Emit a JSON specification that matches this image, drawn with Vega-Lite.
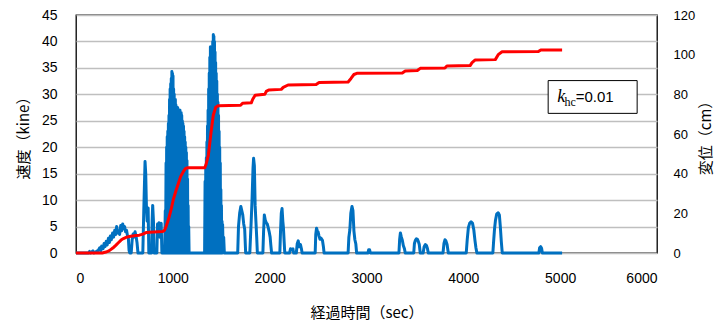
{
  "$schema": "https://vega.github.io/schema/vega-lite/v6.json",
  "width": 581,
  "height": 238,
  "autosize": "none",
  "padding": {"left": 76, "top": 15, "right": 60, "bottom": 70},
  "background": "white",
  "config": {
    "view": {"stroke": "#000000", "strokeWidth": 1.3},
    "axis": {"labelColor": "#000000", "titleColor": "#000000", "titleFontWeight": "normal"}
  },
  "datasets": {
    "vel": [
      {"t":0,"v":0},{"t":130,"v":0},{"t":140,"v":0.3},{"t":150,"v":0},{"t":175,"v":0.4},{"t":185,"v":0},
      {"t":230,"v":0.5},{"t":245,"v":1.0},{"t":255,"v":0.4},{"t":265,"v":1.3},{"t":280,"v":0.8},{"t":290,"v":1.8},
      {"t":300,"v":1.2},{"t":312,"v":2.2},{"t":322,"v":1.5},{"t":335,"v":2.8},{"t":345,"v":2.0},{"t":355,"v":3.2},
      {"t":365,"v":2.5},{"t":378,"v":3.8},{"t":388,"v":3.0},{"t":400,"v":4.3},{"t":410,"v":3.5},{"t":420,"v":5.0},
      {"t":430,"v":3.8},{"t":440,"v":4.2},{"t":450,"v":3.5},{"t":462,"v":5.2},{"t":472,"v":4.2},{"t":482,"v":5.5},
      {"t":492,"v":4.6},{"t":502,"v":5.0},{"t":512,"v":4.0},{"t":522,"v":4.3},{"t":532,"v":3.2},{"t":540,"v":3.0},
      {"t":548,"v":0.5},{"t":555,"v":0},{"t":570,"v":0},{"t":580,"v":2.5},{"t":590,"v":3.6},{"t":600,"v":3.0},
      {"t":610,"v":4.0},{"t":620,"v":3.2},{"t":630,"v":2.0},{"t":640,"v":0},
      {"t":690,"v":0},{"t":700,"v":8},{"t":713,"v":17.3},{"t":720,"v":15},{"t":727,"v":9},{"t":735,"v":6},{"t":745,"v":8.5},{"t":752,"v":0},
      {"t":780,"v":0},{"t":786,"v":6},{"t":792,"v":9},{"t":800,"v":6},{"t":806,"v":0},
      {"t":835,"v":0},{"t":842,"v":5.5},{"t":850,"v":4},{"t":858,"v":5.7},{"t":866,"v":3},{"t":872,"v":5.2},{"t":880,"v":5.6},{"t":887,"v":0},
      {"t":915,"v":0},{"t":922,"v":8},{"t":925,"v":0},{"t":930,"v":17},{"t":933,"v":0},{"t":936,"v":20},{"t":939,"v":0},
      {"t":942,"v":22},{"t":945,"v":0},{"t":948,"v":23},{"t":951,"v":0},{"t":954,"v":24.5},{"t":957,"v":0},
      {"t":960,"v":26},{"t":963,"v":0},{"t":966,"v":29},{"t":969,"v":0},{"t":972,"v":31},{"t":975,"v":0},
      {"t":978,"v":32},{"t":981,"v":0},{"t":984,"v":33},{"t":987,"v":0},{"t":990,"v":34.3},{"t":993,"v":0},
      {"t":996,"v":34},{"t":999,"v":0},{"t":1002,"v":33.5},{"t":1005,"v":0},{"t":1008,"v":31},{"t":1011,"v":0},
      {"t":1014,"v":30},{"t":1017,"v":0},{"t":1020,"v":29},{"t":1023,"v":0},{"t":1026,"v":29},{"t":1029,"v":0},
      {"t":1032,"v":28},{"t":1035,"v":0},{"t":1038,"v":26.5},{"t":1041,"v":0},{"t":1044,"v":27},{"t":1047,"v":0},
      {"t":1050,"v":27.5},{"t":1053,"v":0},{"t":1056,"v":26},{"t":1059,"v":0},{"t":1062,"v":26.5},{"t":1065,"v":0},
      {"t":1068,"v":27},{"t":1071,"v":0},{"t":1074,"v":27},{"t":1077,"v":0},{"t":1080,"v":26.5},{"t":1083,"v":0},
      {"t":1086,"v":26.5},{"t":1089,"v":0},{"t":1092,"v":26},{"t":1095,"v":0},{"t":1098,"v":25},{"t":1101,"v":0},
      {"t":1104,"v":24.5},{"t":1107,"v":0},{"t":1110,"v":24},{"t":1113,"v":0},{"t":1116,"v":23},{"t":1119,"v":0},
      {"t":1122,"v":22},{"t":1125,"v":0},{"t":1128,"v":21},{"t":1131,"v":0},{"t":1134,"v":20},{"t":1137,"v":0},
      {"t":1140,"v":19},{"t":1143,"v":0},{"t":1146,"v":17.5},{"t":1149,"v":0},{"t":1152,"v":14},{"t":1155,"v":0},
      {"t":1158,"v":9},{"t":1161,"v":0},{"t":1164,"v":5},{"t":1168,"v":0},
      {"t":1328,"v":0},{"t":1333,"v":13.5},{"t":1336,"v":0},{"t":1340,"v":16},{"t":1343,"v":0},{"t":1346,"v":18},{"t":1349,"v":0},
      {"t":1352,"v":21},{"t":1355,"v":0},{"t":1358,"v":24},{"t":1361,"v":0},{"t":1364,"v":27},{"t":1367,"v":0},
      {"t":1370,"v":31},{"t":1373,"v":0},{"t":1376,"v":34},{"t":1379,"v":0},{"t":1382,"v":37},{"t":1385,"v":0},
      {"t":1388,"v":39},{"t":1391,"v":0},{"t":1394,"v":38.5},{"t":1397,"v":0},{"t":1400,"v":38},{"t":1403,"v":0},
      {"t":1406,"v":39},{"t":1409,"v":0},{"t":1412,"v":40},{"t":1415,"v":0},{"t":1418,"v":41.3},{"t":1421,"v":0},
      {"t":1424,"v":41},{"t":1427,"v":0},{"t":1430,"v":40},{"t":1433,"v":0},{"t":1436,"v":38},{"t":1439,"v":0},
      {"t":1442,"v":36},{"t":1445,"v":0},{"t":1448,"v":34},{"t":1451,"v":0},{"t":1454,"v":32.5},{"t":1457,"v":0},
      {"t":1460,"v":30},{"t":1463,"v":0},{"t":1466,"v":28.5},{"t":1469,"v":0},{"t":1472,"v":26},{"t":1475,"v":0},
      {"t":1478,"v":23},{"t":1481,"v":0},{"t":1484,"v":20},{"t":1487,"v":0},{"t":1490,"v":17},{"t":1493,"v":0},
      {"t":1496,"v":12},{"t":1499,"v":0},{"t":1502,"v":9},{"t":1505,"v":0},{"t":1508,"v":6},{"t":1511,"v":0},
      {"t":1514,"v":5.4},{"t":1518,"v":2},{"t":1525,"v":3},{"t":1532,"v":0},
      {"t":1670,"v":0},{"t":1678,"v":5},{"t":1690,"v":7.5},{"t":1702,"v":8.8},{"t":1712,"v":8.0},{"t":1722,"v":7.2},{"t":1732,"v":5.5},{"t":1742,"v":4.5},{"t":1752,"v":0},
      {"t":1795,"v":0},{"t":1802,"v":3},{"t":1808,"v":5.5},{"t":1818,"v":10},{"t":1828,"v":16},{"t":1834,"v":17.9},{"t":1842,"v":16.5},{"t":1850,"v":9},{"t":1858,"v":6},{"t":1866,"v":3},{"t":1873,"v":0},
      {"t":1930,"v":0},{"t":1937,"v":4},{"t":1945,"v":7.2},{"t":1955,"v":6.2},{"t":1965,"v":5.7},{"t":1975,"v":5.5},{"t":1985,"v":4.8},{"t":1995,"v":4},{"t":2005,"v":3},{"t":2012,"v":1.5},{"t":2020,"v":0},
      {"t":2105,"v":0},{"t":2112,"v":4},{"t":2120,"v":7.5},{"t":2128,"v":8.4},{"t":2136,"v":6},{"t":2142,"v":4.8},{"t":2150,"v":2},{"t":2156,"v":0},
      {"t":2205,"v":0},{"t":2215,"v":0.8},{"t":2228,"v":0.6},{"t":2240,"v":0.8},{"t":2248,"v":0},
      {"t":2275,"v":0},{"t":2285,"v":1.8},{"t":2295,"v":2.3},{"t":2305,"v":1.2},{"t":2318,"v":1.6},{"t":2328,"v":0.8},{"t":2335,"v":0},
      {"t":2470,"v":0},{"t":2476,"v":3.5},{"t":2484,"v":4.7},{"t":2492,"v":4.2},{"t":2500,"v":4.0},{"t":2510,"v":3.2},{"t":2520,"v":2.6},{"t":2530,"v":2.8},{"t":2545,"v":2.4},{"t":2555,"v":1.2},{"t":2562,"v":0},
      {"t":2810,"v":0},{"t":2818,"v":3},{"t":2828,"v":4.4},{"t":2838,"v":7.5},{"t":2850,"v":8.8},{"t":2860,"v":8.0},{"t":2870,"v":4.2},{"t":2880,"v":2.5},{"t":2890,"v":1.7},{"t":2898,"v":0},
      {"t":3015,"v":0},{"t":3022,"v":0.6},{"t":3032,"v":0.6},{"t":3040,"v":0},
      {"t":3335,"v":0},{"t":3342,"v":2.5},{"t":3350,"v":3.8},{"t":3360,"v":3.0},{"t":3370,"v":2.4},{"t":3380,"v":1.4},{"t":3392,"v":0.8},{"t":3400,"v":0},
      {"t":3488,"v":0},{"t":3495,"v":1.8},{"t":3505,"v":2.4},{"t":3515,"v":2.7},{"t":3525,"v":2.6},{"t":3535,"v":2.2},{"t":3545,"v":1.6},{"t":3555,"v":0},
      {"t":3585,"v":0},{"t":3595,"v":1.2},{"t":3608,"v":1.6},{"t":3620,"v":1.4},{"t":3630,"v":0.8},{"t":3638,"v":0},
      {"t":3790,"v":0},{"t":3800,"v":1.8},{"t":3810,"v":2.5},{"t":3820,"v":2.3},{"t":3832,"v":1.6},{"t":3845,"v":0},
      {"t":4030,"v":0},{"t":4040,"v":2.5},{"t":4052,"v":4.8},{"t":4065,"v":5.6},{"t":4080,"v":5.9},{"t":4095,"v":5.6},{"t":4108,"v":4.4},{"t":4120,"v":2.4},{"t":4130,"v":1},{"t":4140,"v":0},
      {"t":4305,"v":0},{"t":4312,"v":2},{"t":4322,"v":4.5},{"t":4332,"v":6.2},{"t":4345,"v":7.4},{"t":4360,"v":7.6},{"t":4372,"v":7.2},{"t":4382,"v":5},{"t":4392,"v":2.2},{"t":4402,"v":0},
      {"t":4780,"v":0},{"t":4788,"v":1.0},{"t":4798,"v":1.2},{"t":4808,"v":0.9},{"t":4816,"v":0},
      {"t":5020,"v":0}
    ],
    "disp": [
      {"t":0,"d":0},{"t":270,"d":0},{"t":310,"d":0.5},{"t":344,"d":1.2},{"t":380,"d":2.5},{"t":413,"d":4},
      {"t":440,"d":5.3},{"t":465,"d":6.5},{"t":490,"d":7.3},{"t":517,"d":7.9},{"t":550,"d":8.3},{"t":585,"d":8.6},
      {"t":620,"d":8.8},{"t":654,"d":9},{"t":690,"d":9.5},{"t":723,"d":10.3},{"t":760,"d":10.5},{"t":895,"d":10.8},
      {"t":915,"d":11.5},{"t":930,"d":13.3},{"t":955,"d":17},{"t":981,"d":21.7},{"t":1005,"d":27},{"t":1033,"d":31.5},
      {"t":1057,"d":35},{"t":1080,"d":38.5},{"t":1108,"d":41},{"t":1130,"d":42.5},{"t":1150,"d":43},{"t":1330,"d":43},
      {"t":1345,"d":45},{"t":1367,"d":49.4},{"t":1395,"d":61},{"t":1418,"d":69.6},{"t":1443,"d":73.5},{"t":1470,"d":74.3},
      {"t":1700,"d":74.5},{"t":1720,"d":75.5},{"t":1810,"d":75.7},{"t":1825,"d":77.5},{"t":1850,"d":79.5},{"t":1950,"d":80},
      {"t":1965,"d":81.5},{"t":1990,"d":82.2},{"t":2120,"d":82.5},{"t":2140,"d":83.5},{"t":2190,"d":84.7},{"t":2480,"d":85},
      {"t":2510,"d":86},{"t":2810,"d":86.2},{"t":2840,"d":88},{"t":2870,"d":90},{"t":2900,"d":90.6},{"t":3370,"d":90.8},
      {"t":3400,"d":91.8},{"t":3525,"d":92},{"t":3555,"d":93.1},{"t":3810,"d":93.3},{"t":3830,"d":94.3},{"t":4070,"d":94.5},
      {"t":4090,"d":96},{"t":4120,"d":97.3},{"t":4330,"d":97.5},{"t":4360,"d":100},{"t":4400,"d":101.5},{"t":4775,"d":101.6},
      {"t":4800,"d":102.4},{"t":5020,"d":102.4}
    ]
  },
  "layer": [
    {
      "encoding": {
        "x": {"field": "t", "type": "quantitative", "scale": {"domain": [0, 6000], "nice": false},
          "axis": {"title": "経過時間（sec）", "values": [0,1000,2000,3000,4000,5000,6000], "format": "d", "grid": false, "ticks": false, "domain": false,
            "labelFont": "Liberation Sans", "labelFontSize": 14, "labelPadding": 18,
            "titleFont": "Noto Sans CJK JP", "titleFontSize": 15, "titlePadding": 20}},
        "y": {"field": "v", "type": "quantitative", "scale": {"domain": [0, 45], "nice": false},
          "axis": {"title": "速度（kine）", "values": [0,5,10,15,20,25,30,35,40,45], "grid": true, "gridColor": "#bfbfbf", "gridWidth": 1.5,
            "ticks": false, "domain": false, "labelFont": "Liberation Sans", "labelFontSize": 14, "labelPadding": 19,
            "titleFont": "Noto Sans CJK JP", "titleFontSize": 15, "titlePadding": 10}}
      },
      "layer": [
        {"data": {"name": "vel"}, "mark": {"type": "line", "color": "#0070C0", "strokeWidth": 3, "strokeJoin": "round"}},
        {"data": {"values": [{"t": 4876, "t2": 5795, "v": 32.6, "v2": 26.4}]},
          "mark": {"type": "rect", "fill": "white", "stroke": "#000000", "strokeWidth": 1},
          "encoding": {"x2": {"field": "t2"}, "y2": {"field": "v2"}}},
        {"data": {"values": [{"t": 4969, "v": 28.6, "label": "k"}]},
          "mark": {"type": "text", "font": "Liberation Serif", "fontStyle": "italic", "fontSize": 18, "align": "left", "baseline": "alphabetic", "color": "#000000"},
          "encoding": {"text": {"field": "label"}}},
        {"data": {"values": [{"t": 5046, "v": 27.8, "label": "hc"}]},
          "mark": {"type": "text", "font": "Liberation Serif", "fontSize": 12, "align": "left", "baseline": "alphabetic", "color": "#000000"},
          "encoding": {"text": {"field": "label"}}},
        {"data": {"values": [{"t": 5160, "v": 28.6, "label": "=0.01"}]},
          "mark": {"type": "text", "font": "Liberation Sans", "fontSize": 15, "align": "left", "baseline": "alphabetic", "color": "#000000"},
          "encoding": {"text": {"field": "label"}}}
      ]
    },
    {
      "data": {"name": "disp"},
      "mark": {"type": "line", "color": "#FF0000", "strokeWidth": 3, "strokeJoin": "round"},
      "encoding": {
        "x": {"field": "t", "type": "quantitative", "scale": {"domain": [0, 6000], "nice": false},
          "axis": {"title": "経過時間（sec）", "values": [0,1000,2000,3000,4000,5000,6000], "format": "d", "grid": false, "ticks": false, "domain": false,
            "labelFont": "Liberation Sans", "labelFontSize": 14, "labelPadding": 18,
            "titleFont": "Noto Sans CJK JP", "titleFontSize": 15, "titlePadding": 20}},
        "y": {"field": "d", "type": "quantitative", "scale": {"domain": [0, 120], "nice": false},
          "axis": {"orient": "right", "title": "変位（cm）", "values": [0,20,40,60,80,100,120], "grid": false,
            "ticks": false, "domain": false,
            "labelFont": "Liberation Sans", "labelFontSize": 13, "labelPadding": 16,
            "titleFont": "Noto Sans CJK JP", "titleFontSize": 15, "titlePadding": 4, "titleAngle": 270, "titleBaseline": "top"}}
      }
    }
  ],
  "resolve": {"scale": {"y": "independent"}}
}
